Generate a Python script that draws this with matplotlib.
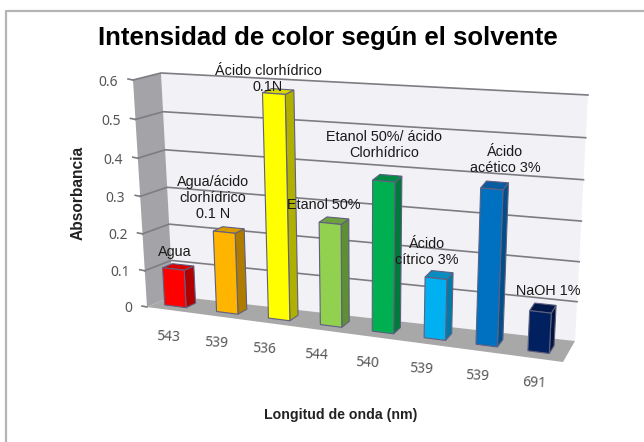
import numpy as np
import matplotlib
matplotlib.use("Agg")
from matplotlib import pyplot as plt
from matplotlib.patches import Polygon

plt.rcParams['font.family'] = ['Liberation Sans', 'DejaVu Sans']

W, H = 644, 442

wavelengths = ["543", "539", "536", "544", "540", "539", "539", "691"]
absorbance = [0.103, 0.218, 0.585, 0.27, 0.39, 0.158, 0.395, 0.103]
solvents = ["Agua", "Agua/ácido\nclorhídrico\n0.1 N", "Ácido clorhídrico\n0.1N", "Etanol 50%",
            "Etanol 50%/ ácido\nClorhídrico", "Ácido\ncítrico 3%", "Ácido\nacético 3%", "NaOH 1%"]
front_colors = ["#ff0000", "#ffb400", "#ffff00", "#92d050", "#00b050", "#00b0f0", "#0070c0", "#002060"]
side_colors = ["#b00000", "#b07c00", "#b0b000", "#5f8f35", "#007a3a", "#007aa8", "#004f8a", "#00143f"]
top_colors = ["#d80000", "#d89a00", "#d8d800", "#6fa03f", "#008a45", "#0a8cc0", "#0a5ca0", "#00184a"]
yticks = [0, 0.1, 0.2, 0.3, 0.4, 0.5, 0.6]
ytick_labels = ["0", "0.1", "0.2", "0.3", "0.4", "0.5", "0.6"]

# hand placed text, image pixels
solvent_xy = [(175, 252), (213, 198), (268, 79), (324, 205), (384, 145), (427, 252), (505, 160), (548, 291)]
wavelength_xy = [(168, 337), (216, 343), (264, 349), (316, 355), (367, 363), (421, 369), (477, 376), (534, 383)]

ZMAX = 0.6
# corners of the 3d box in image pixels
FL0, FL1 = np.array([147, 307.]), np.array([133, 80.])
BL0, BL1 = np.array([173, 296.]), np.array([161, 73.])
FR0, FR1 = np.array([563, 362.]), np.array([576, 116.])
BR0, BR1 = np.array([575, 341.]), np.array([588, 95.])


def project(u, d, z):
    # u along categories, d depth (0 front, 1 back), z value
    t = z / ZMAX
    t = t * (1 - 0.05 * (1 - t))
    fl = FL0 + (FL1 - FL0) * t
    bl = BL0 + (BL1 - BL0) * t
    fr = FR0 + (FR1 - FR0) * t
    br = BR0 + (BR1 - BR0) * t
    front = fl + (fr - fl) * u
    back = bl + (br - bl) * u
    return front + (back - front) * d


def face(ax, pts, color, edge="none", lw=0, zorder=2):
    ax.add_patch(Polygon(np.array(pts), closed=True, facecolor=color, edgecolor=edge, linewidth=lw, zorder=zorder))


def draw_box(ax):
    face(ax, [project(0, 1, 0), project(1, 1, 0), project(1, 1, ZMAX), project(0, 1, ZMAX)], "#f2f2f6")
    face(ax, [project(0, 0, 0), project(0, 1, 0), project(0, 1, ZMAX), project(0, 0, ZMAX)], "#a4a4a8")
    face(ax, [project(0, 0, 0), project(1, 0, 0), project(1, 1, 0), project(0, 1, 0)], "#a8a8a8")
    for z, label in zip(yticks, ytick_labels):
        a, b, c = project(0, 0, z), project(0, 1, z), project(1, 1, z)
        if z > 0:
            ax.plot([a[0], b[0], c[0]], [a[1], b[1], c[1]], color="#7c7c82", lw=1.2, zorder=3)
        ax.plot([a[0] - 5, a[0]], [a[1] - 1, a[1]], color="#7c7c82", lw=1.2, zorder=3)
        ax.text(a[0] - 15, a[1] + 2, label, ha="right", va="center", fontsize=10, color="#555555",
                family=['Noto Sans', 'DejaVu Sans'])


def draw_bar(ax, i):
    z = absorbance[i]
    um = 0.05 + 0.126 * i
    u0, u1 = um - 0.026, um + 0.026
    d0, d1 = 0.3, 0.68
    edge = "#5f5f80"
    face(ax, [project(u1, d0, 0), project(u1, d1, 0), project(u1, d1, z), project(u1, d0, z)],
         side_colors[i], edge, 0.8, 4)
    face(ax, [project(u0, d0, z), project(u1, d0, z), project(u1, d1, z), project(u0, d1, z)],
         top_colors[i], edge, 0.8, 4)
    face(ax, [project(u0, d0, 0), project(u1, d0, 0), project(u1, d0, z), project(u0, d0, z)],
         front_colors[i], edge, 0.8, 5)
    ax.text(*solvent_xy[i], solvents[i], ha="center", va="center", fontsize=10.4, color="#1a1a1a",
            linespacing=1.15, zorder=6)
    ax.text(*wavelength_xy[i], wavelengths[i], ha="center", va="center", fontsize=10, color="#555555",
            rotation=-3, family=['Noto Sans', 'DejaVu Sans'])


def main():
    fig = plt.figure(figsize=(W / 100, H / 100), dpi=100, facecolor="white")
    ax = fig.add_axes([0, 0, 1, 1])
    ax.set_xlim(0, W)
    ax.set_ylim(H, 0)
    ax.axis("off")
    ax.plot([6, 6, W], [H, 10.5, 10.5], color="#b4b4b4", lw=1.6)
    draw_box(ax)
    for i in range(len(absorbance)):
        draw_bar(ax, i)
    ax.text(328, 38, "Intensidad de color según el solvente", ha="center", va="center", fontsize=18.5,
            fontweight="bold", color="black")
    ax.text(78, 193, "Absorbancia", ha="center", va="center", rotation=90, fontsize=11.2, fontweight="bold",
            color="#222222")
    ax.text(341, 415, "Longitud de onda (nm)", ha="center", va="center", fontsize=10.2, fontweight="bold",
            color="#222222")
    fig.savefig("out.png", dpi=100)


if __name__ == '__main__':
    main()
